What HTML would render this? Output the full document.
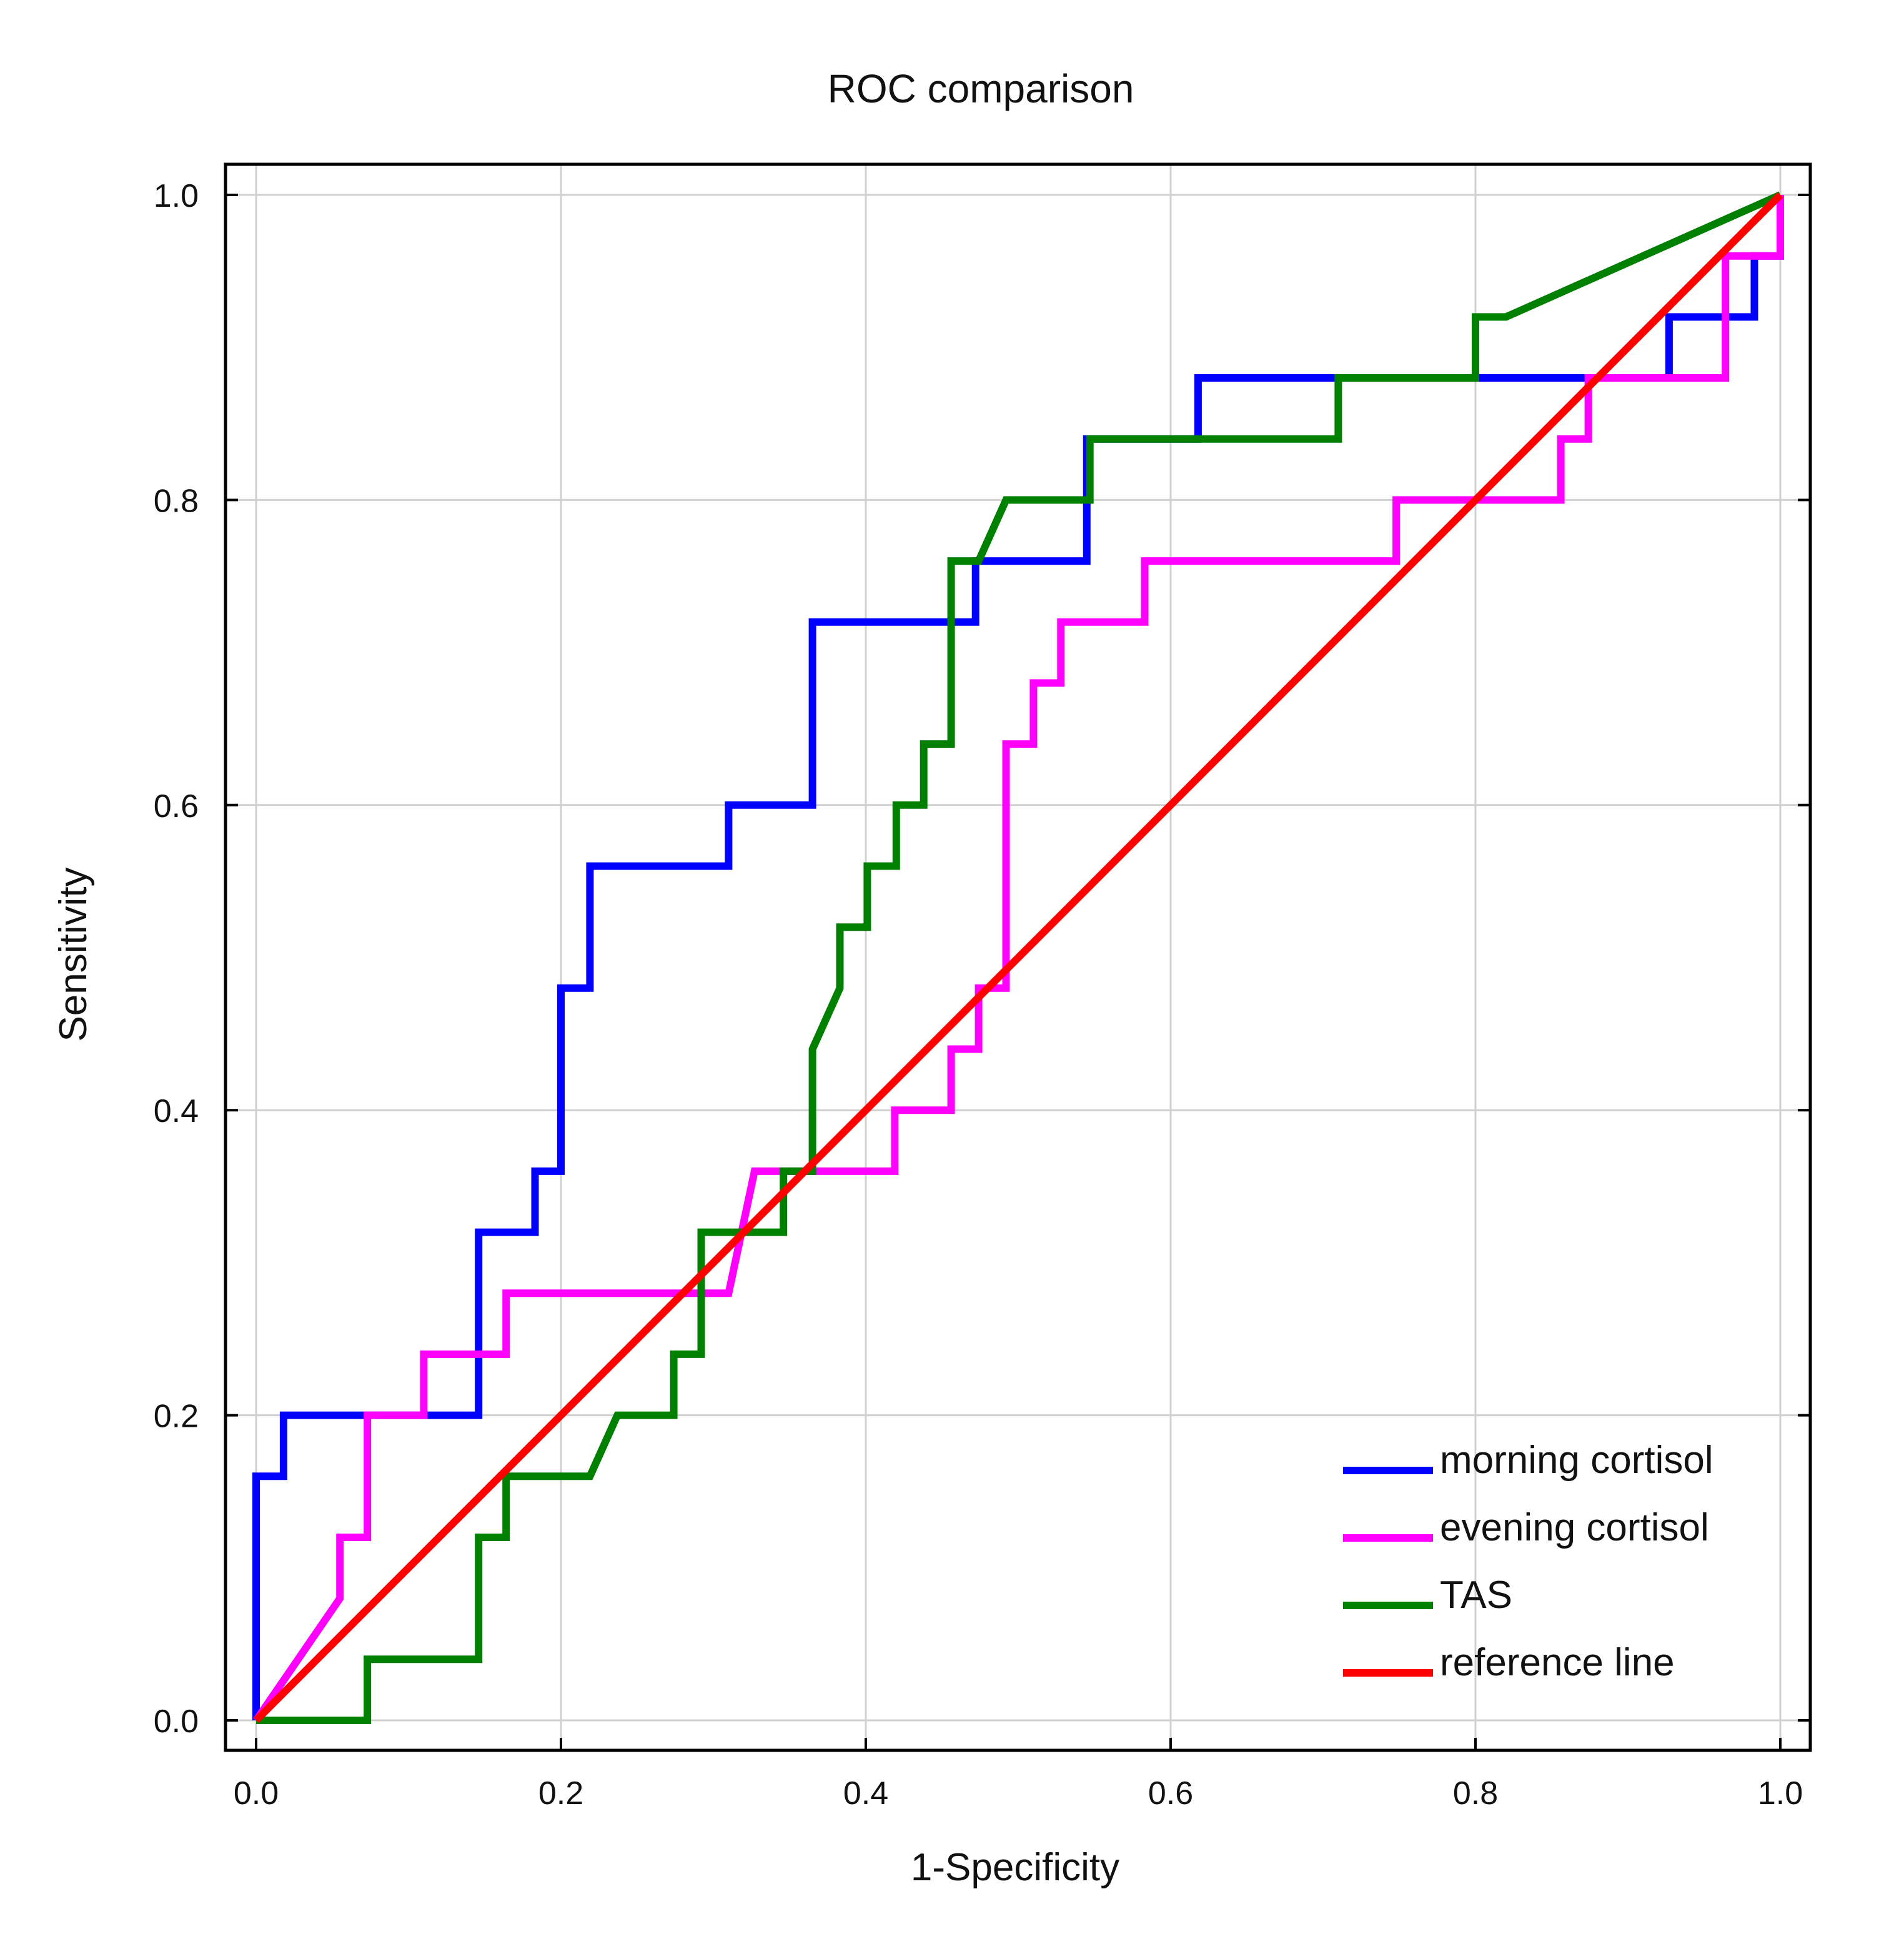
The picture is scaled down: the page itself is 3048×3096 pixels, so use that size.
<!DOCTYPE html>
<html><head><meta charset="utf-8"><style>
html,body{margin:0;padding:0;background:#fff;}
svg{display:block;}
text{font-family:"Liberation Sans",Arial,sans-serif;fill:#111;}
</style></head><body>
<svg id="chart" width="3048" height="3096" viewBox="0 0 3048 3096" xmlns="http://www.w3.org/2000/svg">
<rect x="0" y="0" width="3048" height="3096" fill="#fff"/>
<text x="1570" y="164" font-size="64" text-anchor="middle">ROC comparison</text>
<text x="1625" y="3010" font-size="62" text-anchor="middle">1-Specificity</text>
<text x="0" y="0" font-size="62" text-anchor="middle" transform="translate(138,1528) rotate(-90)">Sensitivity</text>
<g id="grid"></g>
<g id="ticks"></g>
<g id="series"></g>
<rect x="361" y="263" width="2537" height="2539" fill="none" stroke="#000" stroke-width="5"/>
<g id="legend"></g>
</svg>
<script>
const xTicks = [0, 0.2, 0.4, 0.6, 0.8, 1.0];
const yTicks = [0, 0.2, 0.4, 0.6, 0.8, 1.0];
const tickLabels = ["0.0", "0.2", "0.4", "0.6", "0.8", "1.0"];
const seriesNames = ["morning cortisol", "evening cortisol", "TAS", "reference line"];
const seriesColors = ["#0000ff", "#ff00ff", "#008000", "#ff0000"];
const morningX = [0,0,0.018,0.018,0.146,0.146,0.183,0.183,0.2,0.2,0.219,0.219,0.31,0.31,0.365,0.365,0.472,0.472,0.545,0.545,0.618,0.618,0.927,0.927,0.983,0.983,1,1];
const morningY = [0,0.16,0.16,0.2,0.2,0.32,0.32,0.36,0.36,0.48,0.48,0.56,0.56,0.6,0.6,0.72,0.72,0.76,0.76,0.84,0.84,0.88,0.88,0.92,0.92,0.96,0.96,1];
const eveningX = [0,0.055,0.055,0.073,0.073,0.11,0.11,0.164,0.164,0.31,0.327,0.419,0.419,0.456,0.456,0.474,0.474,0.492,0.492,0.51,0.51,0.528,0.528,0.583,0.583,0.748,0.748,0.856,0.856,0.874,0.874,0.964,0.964,1,1];
const eveningY = [0,0.08,0.12,0.12,0.2,0.2,0.24,0.24,0.28,0.28,0.36,0.36,0.4,0.4,0.44,0.44,0.48,0.48,0.64,0.64,0.68,0.68,0.72,0.72,0.76,0.76,0.8,0.8,0.84,0.84,0.88,0.88,0.96,0.96,1];
const tasX = [0,0.073,0.073,0.146,0.146,0.164,0.164,0.219,0.237,0.274,0.274,0.292,0.292,0.346,0.346,0.365,0.365,0.383,0.383,0.401,0.401,0.42,0.42,0.438,0.438,0.456,0.456,0.474,0.492,0.547,0.547,0.71,0.71,0.8,0.8,0.82,1];
const tasY = [0,0,0.04,0.04,0.12,0.12,0.16,0.16,0.2,0.2,0.24,0.24,0.32,0.32,0.36,0.36,0.44,0.48,0.52,0.52,0.56,0.56,0.6,0.6,0.64,0.64,0.76,0.76,0.8,0.8,0.84,0.84,0.88,0.88,0.92,0.92,1];
const refX = [0, 1];
const refY = [0, 1];

const NS = "http://www.w3.org/2000/svg";
const X0 = 410, X1 = 2850, Y0 = 2754, Y1 = 312;
function sx(v){ return X0 + v * (X1 - X0); }
function sy(v){ return Y0 - v * (Y0 - Y1); }
function mk(tag, attrs, parent){ const e = document.createElementNS(NS, tag); for (const k in attrs) e.setAttribute(k, attrs[k]); parent.appendChild(e); return e; }

const grid = document.getElementById('grid');
const ticks = document.getElementById('ticks');
xTicks.forEach((v, i) => {
  const g = mk('line', {x1: sx(v), x2: sx(v), y1: 263, y2: 2802, stroke: '#d0d0d0', 'stroke-width': 3}, grid);
  
  
  const t = mk('line', {x1: sx(v), x2: sx(v), y1: 2802, y2: 2782, stroke: '#000', 'stroke-width': 4}, ticks);
  
  
  const l = mk('text', {x: sx(v), y: 2888, 'font-size': 52, 'text-anchor': 'middle'}, ticks);
  l.textContent = tickLabels[i];
  
  
});
yTicks.forEach((v, i) => {
  const g = mk('line', {x1: 361, x2: 2898, y1: sy(v), y2: sy(v), stroke: '#d0d0d0', 'stroke-width': 3}, grid);
  
  
  const t = mk('line', {x1: 361, x2: 381, y1: sy(v), y2: sy(v), stroke: '#000', 'stroke-width': 4}, ticks);
  
  
  const t2 = mk('line', {x1: 2878, x2: 2898, y1: sy(v), y2: sy(v), stroke: '#000', 'stroke-width': 4}, ticks);
  
  
  const l = mk('text', {x: 318, y: sy(v) + 19, 'font-size': 52, 'text-anchor': 'end'}, ticks);
  l.textContent = tickLabels[i];
  
  
});

const series = document.getElementById('series');
const allX = [morningX, eveningX, tasX, refX];
const allY = [morningY, eveningY, tasY, refY];
const lineNames = ['morning-cortisol-line', 'evening-cortisol-line', 'tas-line', 'reference-line'];
allX.forEach((xs, s) => {
  const pts = xs.map((x, i) => sx(x).toFixed(1) + ',' + sy(allY[s][i]).toFixed(1)).join(' ');
  const p = mk('polyline', {points: pts, fill: 'none', stroke: seriesColors[s], 'stroke-width': 12, 'stroke-linejoin': 'miter', 'stroke-linecap': 'butt'}, series);
  
  
});

const legend = document.getElementById('legend');
seriesNames.forEach((n, i) => {
  const y = 2354 + i * 108;
  const ln = mk('line', {x1: 2150, x2: 2294, y1: y, y2: y, stroke: seriesColors[i], 'stroke-width': 12}, legend);
  
  
  const t = mk('text', {x: 2305, y: y + 4, 'font-size': 62}, legend);
  t.textContent = n;
  
  
});
</script>
</body></html>
